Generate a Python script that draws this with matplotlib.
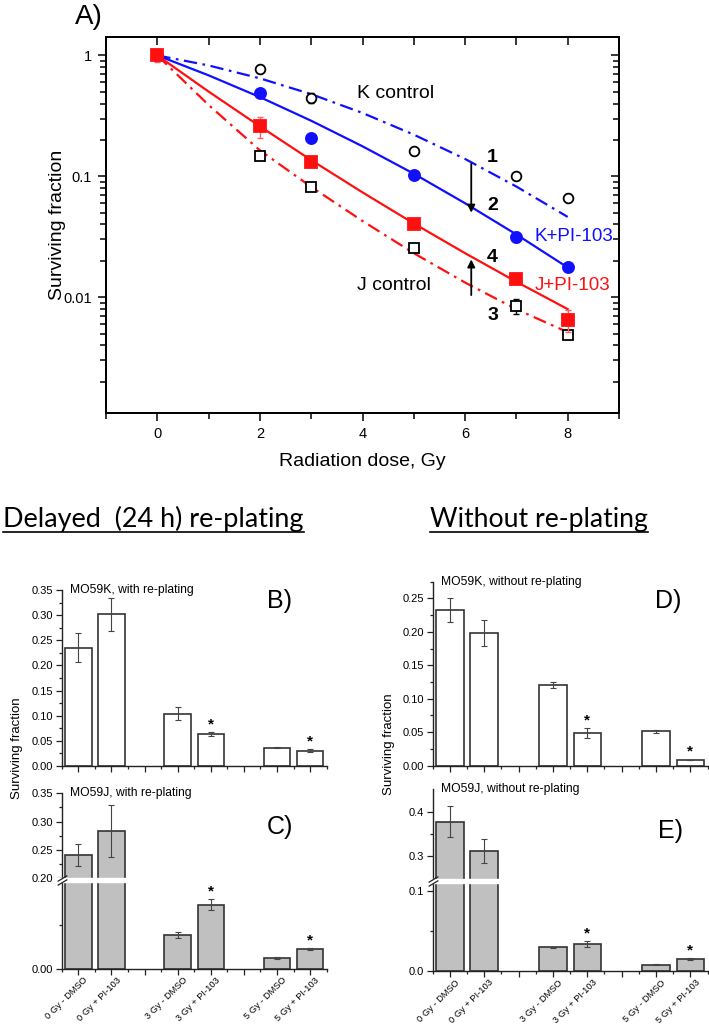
import numpy as np
import matplotlib
matplotlib.use("Agg")
import matplotlib.pyplot as plt
from matplotlib.ticker import FixedLocator, NullFormatter, FixedFormatter
from matplotlib.lines import Line2D
from matplotlib.transforms import ScaledTranslation, blended_transform_factory

plt.rcParams['font.family'] = ['Liberation Sans', 'DejaVu Sans']

# ---------------- data: panel A ----------------
dose_pts = [0, 2, 3, 5, 7, 8]
K_control = [1.0, 0.766, 0.447, 0.162, 0.1007, 0.0667]
K_control_err = [0.07, 0.0, 0.04, 0.0, 0.0, 0.004]
K_PI = [1.0, 0.49, 0.209, 0.103, 0.0315, 0.0176]
K_PI_err = [0.1, 0.0, 0.0, 0.0, 0.003, 0.0]
J_control = [1.0, 0.146, 0.0816, 0.0257, 0.0085, 0.0049]
J_control_err = [0.08, 0.0, 0.0, 0.0, 0.0012, 0.0003]
J_PI = [1.0, 0.259, 0.132, 0.0406, 0.014, 0.0065]
J_PI_err = [0.12, 0.05, 0.0, 0.0, 0.0012, 0.0014]

fit_dose = [0, 1, 2, 3, 4, 5, 6, 7, 8]
K_control_fit = [1, 0.826, 0.646, 0.478, 0.334, 0.221, 0.139, 0.0822, 0.0461]
K_PI_fit = [1, 0.684, 0.452, 0.288, 0.177, 0.105, 0.0598, 0.0330, 0.0176]
J_PI_fit = [1, 0.502, 0.259, 0.136, 0.0736, 0.0407, 0.0231, 0.0134, 0.00796]
J_control_fit = [1, 0.389, 0.164, 0.0817, 0.0427, 0.0231, 0.0132, 0.00794, 0.00513]

# ---------------- data: bar panels ----------------
bar_labels = ['0 Gy - DMSO', '0 Gy + PI-103', '3 Gy - DMSO', '3 Gy + PI-103',
              '5 Gy - DMSO', '5 Gy + PI-103']
bar_pos = [1, 2, 4, 5, 7, 8]
star_idx = [3, 5]
B_vals = [0.235, 0.302, 0.104, 0.063, 0.0365, 0.0305]
B_err = [0.029, 0.033, 0.0125, 0.004, 0.0015, 0.003]
C_vals = [0.241, 0.283, 0.0388, 0.0738, 0.0125, 0.0225]
C_err = [0.019, 0.046, 0.003, 0.006, 0.001, 0.0015]
D_vals = [0.233, 0.1985, 0.121, 0.0488, 0.0513, 0.0083]
D_err = [0.018, 0.019, 0.0045, 0.007, 0.0025, 0.0005]
E_vals = [0.378, 0.3125, 0.0293, 0.0334, 0.0078, 0.0151]
E_err = [0.034, 0.027, 0.0008, 0.0034, 0.0005, 0.0015]

W, H = 709, 1028
fig = plt.figure(figsize=(W / 100, H / 100), dpi=100)


def rect(l, t, r, b):
    return [l / W, 1 - b / H, (r - l) / W, (b - t) / H]


def fx(x):
    return x / W


def fy(y):
    return 1 - y / H

# ================= Panel A =================
axA = fig.add_axes(rect(106, 37, 619, 413))
axA.set_yscale('log')
axA.set_xlim(-1, 9)
axA.set_ylim(0.0011, 1.42)

blue = '#1010ff'
red = '#ff1010'
dashdot = (0, (6, 2.5, 1.2, 2.5))
axA.plot(fit_dose, K_control_fit, color=blue, lw=1.6, ls=dashdot, zorder=2)
axA.plot(fit_dose, K_PI_fit, color=blue, lw=1.6, zorder=2)
axA.plot(fit_dose, J_PI_fit, color=red, lw=1.6, zorder=2)
axA.plot(fit_dose, J_control_fit, color=red, lw=1.6, ls=dashdot, zorder=2)


def series(x, y, e, marker, ms, face, edge, ecol, z):
    x = np.asarray(x, float)
    y = np.asarray(y, float)
    e = np.asarray(e, float)
    m = e > 0
    axA.errorbar(x[m], y[m], yerr=e[m], fmt='none', ecolor=ecol, elinewidth=1,
                 capsize=2.5, capthick=1, zorder=z)
    axA.plot(x, y, ls='none', marker=marker, ms=ms, mfc=face, mec=edge, mew=1.3,
             zorder=z + 0.5)


series(dose_pts, K_control, K_control_err, 'o', 7, 'white', 'k', 'k', 4)
series(dose_pts, J_control, J_control_err, 's', 6.5, 'white', 'k', 'k', 4)
series(dose_pts, K_PI, K_PI_err, 'o', 8, blue, blue, blue, 5)
series(dose_pts, J_PI, J_PI_err, 's', 8, red, red, '#ff6060', 6)

axA.set_xticks([0, 2, 4, 6, 8])
axA.set_xticks([-1, 1, 3, 5, 7, 9], minor=True)
axA.set_yticks([0.01, 0.1, 1])
axA.set_yticklabels(['0.01', '0.1', '1'])
axA.yaxis.set_minor_formatter(NullFormatter())
axA.tick_params(axis='both', which='major', direction='out', length=6, width=1.1,
                labelsize=10.5, pad=4)
axA.tick_params(axis='both', which='minor', direction='out', length=4, width=1.1)
for s in axA.spines.values():
    s.set_linewidth(1.3)

axR = axA.twinx()
axR.set_yscale('log')
axR.set_ylim(axA.get_ylim())
axR.set_yticks([0.01, 0.1, 1])
axR.tick_params(axis='y', which='both', direction='in', labelright=False)
axR.tick_params(axis='y', which='major', length=6, width=1.1)
axR.tick_params(axis='y', which='minor', length=4, width=1.1)
axT = axA.twiny()
axT.set_xlim(axA.get_xlim())
axT.set_xticks([0, 2, 4, 6, 8])
axT.set_xticks([-1, 1, 3, 5, 7, 9], minor=True)
axT.tick_params(axis='x', which='both', direction='in', labeltop=False,
                length=6, width=1.1)
for a in (axR, axT):
    for s in a.spines.values():
        s.set_linewidth(1.3)

axA.text(3.89, 0.485, 'K control', fontsize=14, ha='left', va='center')
axA.text(3.89, 0.0126, 'J control', fontsize=14, ha='left', va='center')
axA.text(7.35, 0.0319, 'K+PI-103', fontsize=13.5, ha='left', va='center', color=blue)
axA.text(7.35, 0.0126, 'J+PI-103', fontsize=13.5, ha='left', va='center', color=red)
for lab, yy in (('1', 0.1435), ('2', 0.0576), ('4', 0.0213), ('3', 0.0071)):
    axA.text(6.43, yy, lab, fontsize=14, fontweight='bold', ha='left', va='center')
axA.annotate('', xy=(6.12, 0.05), xytext=(6.12, 0.127),
             arrowprops=dict(arrowstyle='-|>', color='k', lw=1.3,
                             mutation_scale=11, shrinkA=0, shrinkB=0), zorder=7)
axA.annotate('', xy=(6.12, 0.0205), xytext=(6.12, 0.0104),
             arrowprops=dict(arrowstyle='-|>', color='k', lw=1.3,
                             mutation_scale=11, shrinkA=0, shrinkB=0), zorder=7)

fig.text(fx(75), fy(17), 'A)', fontsize=20, ha='left', va='center')
fig.text(fx(57), fy(225), 'Surviving fraction', fontsize=14, rotation=90,
         ha='center', va='center')
fig.text(fx(362), fy(462), 'Radiation dose, Gy', fontsize=14, ha='center', va='center')

# ================= headings =================
renderer = fig.canvas.get_renderer()


def heading(txt, x0, target_w, base_y, ul_y):
    t = fig.text(fx(x0), fy(base_y), txt, fontsize=15, family=['Lato', 'DejaVu Sans'],
                 ha='left', va='baseline')
    bb = t.get_window_extent(renderer=renderer)
    t.set_fontsize(15 * target_w / bb.width)
    bb = t.get_window_extent(renderer=renderer)
    fig.add_artist(Line2D([bb.x0 / W, bb.x1 / W], [fy(ul_y), fy(ul_y)],
                          color='k', lw=1.2, transform=fig.transFigure))

heading('Delayed  (24 h) re-plating', 3, 301, 527, 532)
heading('Without re-plating', 430, 218, 527, 532)

# ================= bar panels =================


def make_scale(ys, ps):
    ys = np.asarray(ys, float)
    ps = np.asarray(ps, float)

    def fwd(v):
        return np.interp(v, ys, ps)

    def inv(v):
        return np.interp(v, ps, ys)
    return fwd, inv


def bar_panel(rc, vals, errs, fill, ylim, major, majlab, minor, label, plabel,
              plabel_xy, show_xlabels, brk=None, scale=None):
    ax = fig.add_axes(rc)
    if scale is not None:
        ax.set_yscale('function', functions=scale)
    ax.bar(bar_pos, vals, width=0.8, color=fill, edgecolor='#333333', lw=1.2, zorder=2)
    ax.errorbar(bar_pos, vals, yerr=errs, fmt='none', ecolor='#444444', elinewidth=0.8,
                capsize=2.5, capthick=0.8, zorder=3)
    for i in star_idx:
        ax.annotate('*', xy=(bar_pos[i], vals[i] + errs[i]), xytext=(0, 0.5),
                    textcoords='offset points', ha='center', va='bottom',
                    fontsize=11, fontweight='bold', zorder=4)
    ax.set_xlim(0.5, 8.5)
    ax.set_ylim(*ylim)
    for s in ('top', 'right'):
        ax.spines[s].set_visible(False)
    for s in ('left', 'bottom'):
        ax.spines[s].set_linewidth(1.0)
        ax.spines[s].set_color('#222222')
    ax.yaxis.set_major_locator(FixedLocator(major))
    ax.yaxis.set_major_formatter(FixedFormatter(majlab))
    ax.yaxis.set_minor_locator(FixedLocator(minor))
    ax.yaxis.set_minor_formatter(NullFormatter())
    ax.xaxis.set_major_locator(FixedLocator(list(range(1, 9))))
    ax.xaxis.set_minor_locator(FixedLocator([0.5 + k for k in range(9)]))
    ax.tick_params(axis='both', which='major', direction='out', length=4, width=0.9,
                   labelsize=8, pad=2, color='#222222')
    ax.tick_params(axis='both', which='minor', direction='out', length=2.5, width=0.9,
                   color='#222222')
    if show_xlabels:
        labs = []
        for k in range(1, 9):
            if k in bar_pos:
                labs.append(bar_labels[bar_pos.index(k)])
            else:
                labs.append('')
        ax.xaxis.set_major_formatter(FixedFormatter(labs))
        off = ScaledTranslation(8 / 100, -2 / 100, fig.dpi_scale_trans)
        for tl in ax.get_xticklabels():
            tl.set_rotation(45)
            tl.set_ha('right')
            tl.set_va('center')
            tl.set_rotation_mode('anchor')
            tl.set_fontsize(6.7)
            tl.set_transform(tl.get_transform() + off)
    else:
        ax.xaxis.set_major_formatter(NullFormatter())
    ax.text(0.03, 1.0, label, transform=ax.transAxes, fontsize=8.7, ha='left',
            va='center')
    fig.text(fx(plabel_xy[0]), fy(plabel_xy[1]), plabel, fontsize=18, ha='left',
             va='center')
    if brk is not None:
        lo, hi = brk
        ax.axhspan(lo, hi, xmin=-0.03, xmax=1, color='white', zorder=5, clip_on=False)
        tr = blended_transform_factory(ax.transAxes, ax.transData)
        for yv in (lo, hi):
            ax.plot([0], [yv], transform=tr, marker=[(-1, -0.6), (1, 0.6)], ms=7,
                    mew=0.9, color='#222222', clip_on=False, zorder=6)
    return ax


bar_panel(rect(61.7, 590, 326.7, 766), B_vals, B_err, 'white', (0, 0.35),
          [0, 0.05, 0.1, 0.15, 0.2, 0.25, 0.3, 0.35],
          ['0.00', '0.05', '0.10', '0.15', '0.20', '0.25', '0.30', '0.35'],
          [0.025, 0.075, 0.125, 0.175, 0.225, 0.275, 0.325],
          'MO59K, with re-plating', 'B)', (267, 601), False)

C_scale = make_scale([-10, 0, 0.1, 0.2, 10],
                     [-8680, 0, 86.8, 90.4, 90.4 + 9.8 * 566])
bar_panel(rect(61.7, 793.3, 326.7, 968.7), C_vals, C_err, '#c0c0c0', (0, 0.35),
          [0, 0.2, 0.25, 0.3, 0.35], ['0.00', '0.20', '0.25', '0.30', '0.35'],
          [0.05, 0.225, 0.275, 0.325],
          'MO59J, with re-plating', 'C)', (267, 827), True, brk=(0.1, 0.2),
          scale=C_scale)

bar_panel(rect(432.7, 581.7, 707.5, 765.5), D_vals, D_err, 'white', (0, 0.275),
          [0, 0.05, 0.1, 0.15, 0.2, 0.25],
          ['0.00', '0.05', '0.10', '0.15', '0.20', '0.25'],
          [0.025, 0.075, 0.125, 0.175, 0.225, 0.275],
          'MO59K, without re-plating', 'D)', (655, 601), False)

E_scale = make_scale([-10, 0, 0.11, 0.25, 10],
                     [-8200, 0, 90.2, 94.2, 94.2 + 9.75 * 457])
bar_panel(rect(432.7, 789.3, 707.5, 971), E_vals, E_err, '#c0c0c0', (0, 0.45),
          [0, 0.1, 0.3, 0.4], ['0.0', '0.1', '0.3', '0.4'], [0.05, 0.35],
          'MO59J, without re-plating', 'E)', (658, 831), True, brk=(0.11, 0.25),
          scale=E_scale)

fig.text(fx(17), fy(748), 'Surviving fraction', fontsize=9.5, rotation=90,
         ha='center', va='center')
fig.text(fx(389), fy(744), 'Surviving fraction', fontsize=9.5, rotation=90,
         ha='center', va='center')

fig.savefig('out.png', dpi=100)
